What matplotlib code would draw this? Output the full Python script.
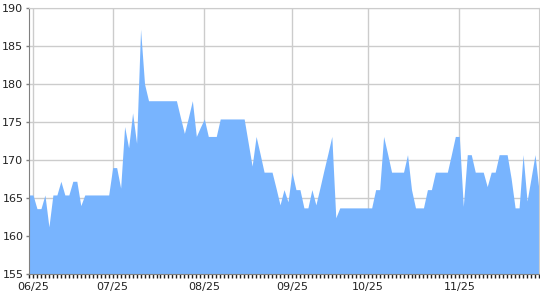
import numpy as np
import matplotlib
matplotlib.use('Agg')
import matplotlib.pyplot as plt
from matplotlib.ticker import MultipleLocator, FixedLocator

# one value per point, equally spaced along x
valores = [
    165.4, 165.4, 163.6, 163.6, 165.4, 161.2, 165.4, 165.4, 167.2, 165.4,
    165.4, 167.2, 167.2, 164.0, 165.4, 165.4, 165.4, 165.4, 165.4, 165.4,
    165.4, 169.0, 169.0, 166.3, 174.4, 171.6, 176.2, 172.2, 187.2, 180.0,
    177.8, 177.8, 177.8, 177.8, 177.8, 177.8, 177.8, 177.8, 175.6, 173.5,
    175.6, 177.8, 173.1, 174.3, 175.4, 173.1, 173.1, 173.1, 175.4, 175.4,
    175.4, 175.4, 175.4, 175.4, 175.4, 172.3, 169.2, 173.1, 170.8, 168.4,
    168.4, 168.4, 166.3, 164.1, 166.1, 164.5, 168.4, 166.1, 166.1, 163.7,
    163.7, 166.1, 164.1, 166.3, 168.6, 170.8, 173.1, 162.4, 163.7, 163.7,
    163.7, 163.7, 163.7, 163.7, 163.7, 163.7, 163.7, 166.1, 166.1, 173.1,
    170.8, 168.4, 168.4, 168.4, 168.4, 170.7, 166.1, 163.7, 163.7, 163.7,
    166.1, 166.1, 168.4, 168.4, 168.4, 168.4, 170.7, 173.1, 173.1, 163.9,
    170.7, 170.7, 168.4, 168.4, 168.4, 166.5, 168.4, 168.4, 170.7, 170.7,
    170.7, 167.6, 163.7, 163.7, 170.7, 164.6, 167.6, 170.7, 166.0,
]
etiquetas = ['06/25', '07/25', '08/25', '09/25', '10/25', '11/25']
pos_etiquetas = [1, 21, 44, 66, 85, 108]

x = np.arange(len(valores))

fig = plt.figure(figsize=(5.4, 3.0), dpi=100)
ax = fig.add_axes([29 / 540, 26 / 300, 510 / 540, 266 / 300])

ax.fill_between(x, valores, 155, color='#78b4fe', linewidth=0, zorder=2)

ax.set_xlim(0, len(valores) - 1)
ax.set_ylim(155, 190)

ax.yaxis.set_major_locator(MultipleLocator(5))
ax.xaxis.set_major_locator(FixedLocator(pos_etiquetas))
ax.set_xticklabels(etiquetas)
ax.xaxis.set_minor_locator(FixedLocator(x))

ax.set_axisbelow(True)
ax.grid(True, which='major', color='#cccccc', linewidth=1)

ax.tick_params(axis='x', which='both', length=3, width=1, color='#222222',
               labelsize=8, pad=3, labelcolor='#222222')
ax.tick_params(axis='y', which='major', length=2, width=1, color='#808080',
               labelsize=8, pad=2, labelcolor='#222222')

for lado in ['top', 'right']:
    ax.spines[lado].set_color('#cccccc')
ax.spines['left'].set_color('#808080')
ax.spines['bottom'].set_color('#808080')

plt.savefig('out.png', dpi=100)
